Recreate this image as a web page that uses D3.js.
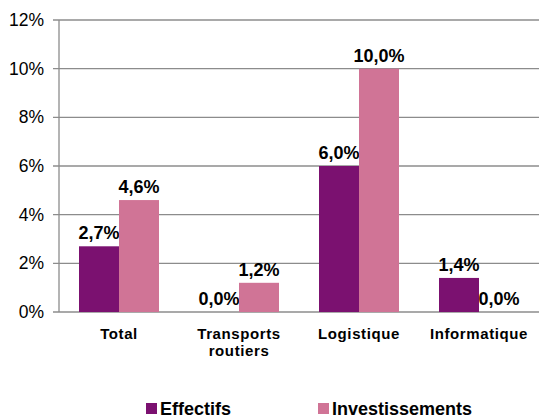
<!DOCTYPE html>
<html><head><meta charset="utf-8">
<script src="https://cdn.jsdelivr.net/npm/d3@7"></script>
<style>body{margin:0;background:#fff}svg{display:block}text{font-family:"Liberation Sans",Arial,sans-serif}</style>
</head><body>
<svg id="c" width="539" height="419"></svg>
<script>
const categories = [["Total"], ["Transports", "routiers"], ["Logistique"], ["Informatique"]];
const seriesNames = ["Effectifs", "Investissements"];
const effectifs = [2.7, 0.0, 6.0, 1.4];
const investissements = [4.6, 1.2, 10.0, 0.0];
const yTicks = [0, 2, 4, 6, 8, 10, 12];
const colors = ["#7b1170", "#d07496"];

(function() {
const svg = d3.select("#c");
const pLeft = 59, pRight = 539, pTop = 20, pBottom = 312;
const y = d3.scaleLinear().domain([0, 12]).range([pBottom, pTop]);
const x0 = d3.scaleBand().domain(d3.range(categories.length)).range([pLeft, pRight]).paddingInner(1/3).paddingOuter(1/6);
const x1 = d3.scaleBand().domain([0, 1]).range([0, x0.bandwidth()]);
const fmt = v => v.toFixed(1).replace(".", ",") + "%";

svg.append("g").selectAll("line").data(yTicks).join("line")
  .attr("x1", pLeft - 6).attr("x2", pRight).attr("y1", d => y(d)).attr("y2", d => y(d))
  .attr("stroke", "#8c8c8c").attr("stroke-width", 1.3);
svg.append("line").attr("x1", pLeft).attr("x2", pLeft).attr("y1", pTop).attr("y2", pBottom)
  .attr("stroke", "#8c8c8c").attr("stroke-width", 1.3);
svg.append("g").selectAll("text").data(yTicks).join("text")
  .attr("x", 44).attr("y", d => y(d)).attr("dy", "0.35em").attr("text-anchor", "end")
  .attr("font-size", 17.5).attr("fill", "#000").text(d => d + "%");

const series = [effectifs, investissements];
series.forEach((vals, s) => {
  const g = svg.append("g");
  g.selectAll("rect").data(vals).join("rect")
    .attr("x", (d, i) => x0(i) + x1(s)).attr("width", x1.bandwidth())
    .attr("y", d => y(d)).attr("height", d => pBottom - y(d)).attr("fill", colors[s]);
  g.selectAll("text").data(vals).join("text")
    .attr("x", (d, i) => x0(i) + x1(s) + x1.bandwidth() / 2)
    .attr("y", d => y(d) - 7).attr("text-anchor", "middle")
    .attr("font-size", 18).attr("font-weight", "bold").attr("fill", "#000").text(fmt);
});

svg.append("g").selectAll("text").data(categories).join("text")
  .attr("x", (d, i) => x0(i) + x0.bandwidth() / 2).attr("y", 339)
  .attr("text-anchor", "middle").attr("font-size", 15).attr("font-weight", "bold")
  .attr("letter-spacing", 0.6).attr("fill", "#000")
  .each(function(d) {
    const t = d3.select(this);
    t.selectAll("tspan").data(d).join("tspan")
      .attr("x", t.attr("x")).attr("dy", (s, j) => j === 0 ? 0 : 16.5).text(s => s);
  });

const legX = [146, 318];
seriesNames.forEach((n, s) => {
  svg.append("rect").attr("x", legX[s]).attr("y", 403).attr("width", 11).attr("height", 11).attr("fill", colors[s]);
  svg.append("text").attr("x", legX[s] + 14).attr("y", 415).attr("font-size", 18).attr("font-weight", "bold")
    .attr("fill", "#000").text(n);
});
})();
</script>
</body></html>
